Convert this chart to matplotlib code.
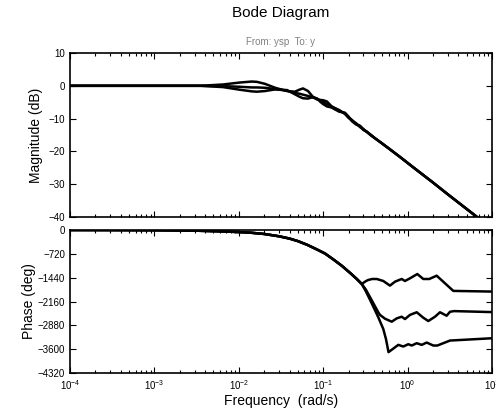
import numpy as np
import matplotlib
matplotlib.use("Agg")
import matplotlib.pyplot as plt
from matplotlib.ticker import LogLocator, NullFormatter, FixedLocator

plt.rcParams['font.family'] = ['Liberation Sans', 'DejaVu Sans']

# ---- Magnitude data (dB), three models ----
w_mag = [1e-4, 1e-3, 0.002, 0.0035, 0.0065, 0.0103, 0.0143, 0.0164, 0.0204,
         0.0269, 0.0372, 0.0463, 0.052, 0.0577, 0.0661, 0.0757, 0.085, 0.0916,
         0.10, 0.111, 0.125, 0.138, 0.155, 0.181, 0.20, 0.219, 0.245, 0.273,
         0.30, 0.330, 0.37, 0.411, 0.5, 0.65, 0.813, 1.2, 2.0, 3.0, 6.64, 10.0]
mag_a = [0, 0, 0, 0, 0.4, 1.0, 1.3, 1.2, 0.6, -0.6, -1.6,
         -1.8, -1.2, -0.8, -1.6, -3.4, -4.2, -4.3, -4.4, -4.8, -6.2, -6.9,
         -7.6, -8.4, -9.6, -10.4, -11.6, -12.2, -13.2, -14.1, -15.2, -16.0,
         -17.6, -19.8, -21.7, -25.1, -29.5, -33.1, -40.0, -43.6]
mag_b = [0, 0, 0, 0, -0.1, -0.3, -0.5, -0.5, -0.6, -1.0, -1.5,
         -2.2, -2.4, -2.7, -3.1, -3.6, -4.0, -4.4, -5.0, -5.6, -6.3, -6.8,
         -7.4, -8.6, -9.8, -10.6, -11.4, -12.6, -13.3, -14.1, -15.0, -16.0,
         -17.6, -19.8, -21.7, -25.1, -29.5, -33.1, -40.0, -43.6]
mag_c = [0, 0, 0, 0, -0.4, -1.2, -1.7, -1.8, -1.6, -1.1, -1.3,
         -2.6, -3.3, -3.8, -3.9, -3.4, -3.9, -4.8, -5.6, -6.3, -6.6, -7.2,
         -7.9, -8.2, -9.4, -10.8, -11.8, -12.3, -13.5, -14.0, -15.1, -16.0,
         -17.6, -19.8, -21.7, -25.1, -29.5, -33.1, -40.0, -43.6]

# ---- Phase data (deg) ----
w_ph_common = [1e-4, 3e-4, 1e-3, 0.003, 0.006, 0.01, 0.0136, 0.02, 0.03,
               0.04, 0.05, 0.065, 0.0838, 0.105, 0.132, 0.165, 0.208, 0.25,
               0.286]
ph_common = [-1, -3, -7, -20, -40, -62, -80, -120, -190, -260, -335, -450,
             -585, -710, -890, -1075, -1295, -1480, -1630]

w_ph_a = [0.298, 0.32, 0.342, 0.38, 0.431, 0.515, 0.618, 0.710, 0.851, 0.931,
          1.067, 1.303, 1.535, 1.807, 2.21, 3.48, 10.0]
ph_a = [-1600, -1545, -1510, -1480, -1480, -1540, -1680, -1560, -1480, -1540,
        -1460, -1330, -1480, -1480, -1380, -1840, -1860]

w_ph_b = [0.32, 0.359, 0.40, 0.450, 0.471, 0.540, 0.649, 0.743, 0.851, 0.931,
          1.067, 1.282, 1.535, 1.758, 2.11, 2.42, 2.90, 3.18, 3.55, 10.0]
ph_b = [-1800, -2030, -2250, -2490, -2565, -2680, -2770, -2670, -2620, -2690,
        -2565, -2485, -2650, -2750, -2620, -2485, -2590, -2470, -2450, -2480]

w_ph_c = [0.32, 0.359, 0.40, 0.450, 0.515, 0.555, 0.594, 0.776, 0.889, 1.019,
          1.118, 1.282, 1.469, 1.683, 2.015, 2.25, 3.18, 10.0]
ph_c = [-1850, -2110, -2360, -2640, -2990, -3300, -3690, -3470, -3520, -3450,
        -3490, -3420, -3470, -3400, -3490, -3490, -3340, -3270]

W, H = 496, 418
fig = plt.figure(figsize=(W / 100, H / 100), dpi=100)

ax1 = fig.add_axes([70 / W, 1 - 217 / H, 422 / W, 164 / H])
ax2 = fig.add_axes([70 / W, 1 - 373 / H, 422 / W, 143 / H])

lw = 1.8
for m in (mag_a, mag_b, mag_c):
    ax1.semilogx(w_mag, m, color='black', lw=lw, solid_joinstyle='round')

for wb, pb in ((w_ph_a, ph_a), (w_ph_b, ph_b), (w_ph_c, ph_c)):
    ax2.semilogx(w_ph_common + wb, ph_common + pb, color='black', lw=lw,
                 solid_joinstyle='round')

for ax in (ax1, ax2):
    ax.set_xscale('log')
    ax.set_xlim(1e-4, 10)
    ax.xaxis.set_major_locator(LogLocator(base=10, numticks=10))
    ax.xaxis.set_minor_locator(LogLocator(base=10, subs=np.arange(2, 10), numticks=100))
    ax.xaxis.set_minor_formatter(NullFormatter())
    ax.tick_params(which='both', direction='in', top=True, right=True,
                   labelsize=7, width=0.8)
    ax.tick_params(which='major', length=4)
    ax.tick_params(which='minor', length=2)
    for s in ax.spines.values():
        s.set_linewidth(1.2)

ax1.set_ylim(-40, 10)
ax1.yaxis.set_major_locator(FixedLocator([-40, -30, -20, -10, 0, 10]))
ax1.tick_params(labelbottom=False)
ax1.set_ylabel('Magnitude (dB)', fontsize=10, labelpad=4)

ax2.set_ylim(-4320, 0)
ax2.yaxis.set_major_locator(FixedLocator([-4320, -3600, -2880, -2160, -1440, -720, 0]))
ax2.set_ylabel('Phase (deg)', fontsize=10, labelpad=1)
ax2.set_xlabel('Frequency  (rad/s)', fontsize=10, labelpad=2)

fig.text(281 / W, 1 - 13 / H, 'Bode Diagram', ha='center', va='center', fontsize=11)
fig.text(281 / W, 1 - 42 / H, 'From: ysp  To: y', ha='center', va='center',
         fontsize=7, color='#808080')

fig.savefig('out.png', dpi=100)
